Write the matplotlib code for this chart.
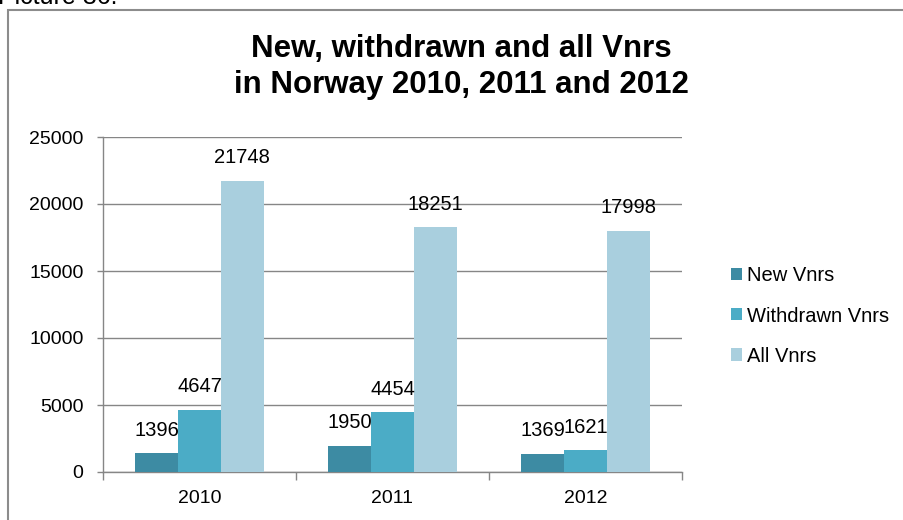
import matplotlib
matplotlib.use("Agg")
import matplotlib.pyplot as plt
import numpy as np
from matplotlib.patches import Rectangle

plt.rcParams["font.family"] = ["Liberation Sans", "DejaVu Sans"]
plt.rcParams["font.size"] = 14

years = ["2010", "2011", "2012"]
series_names = ["New Vnrs", "Withdrawn Vnrs", "All Vnrs"]
new_vnrs = [1396, 1950, 1369]
withdrawn_vnrs = [4647, 4454, 1621]
all_vnrs = [21748, 18251, 17998]
title_lines = ["New, withdrawn and all Vnrs", "in Norway 2010, 2011 and 2012"]

COLORS = ["#3D8BA3", "#4BACC6", "#A9CFDE"]
GRID = "#868686"
W, H = 904, 520

fig = plt.figure(figsize=(W / 100, H / 100), dpi=100)
ax = fig.add_axes([103 / W, 1 - 472 / H, (682 - 103) / W, (472 - 137) / H])

x = np.arange(len(years))
w = 43 / 193.5
for i, (vals, name, col) in enumerate(zip([new_vnrs, withdrawn_vnrs, all_vnrs], series_names, COLORS)):
    bars = ax.bar(x + (i - 1) * w, vals, width=w, color=col, label=name, zorder=3)
    for b, v in zip(bars, vals):
        ax.annotate(f"{v}", xy=(b.get_x() + b.get_width() / 2, v), xytext=(0, 16.5),
                    textcoords="offset points", ha="center", va="center", fontsize=14.5, zorder=4)

ax.set_xlim(-0.5, 2.5)
ax.set_ylim(0, 25000)
ax.set_yticks(range(0, 25001, 5000))
ax.yaxis.grid(True, color=GRID, lw=1.0, zorder=0)
ax.tick_params(axis="y", direction="out", length=4.5, color=GRID, width=1.0, labelsize=14, pad=9.5)

ax.set_xticks([-0.5, 0.5, 1.5, 2.5])
ax.set_xticklabels([])
ax.set_xticks(x, minor=True)
ax.set_xticklabels(years, minor=True)
ax.tick_params(axis="x", which="major", direction="out", length=6, color=GRID, width=1.0)
ax.tick_params(axis="x", which="minor", length=0, labelsize=14, pad=13)

for s in ["top", "right"]:
    ax.spines[s].set_visible(False)
for s in ["left", "bottom"]:
    ax.spines[s].set_color(GRID)
    ax.spines[s].set_linewidth(1.0)

# two-line title, baselines
for line, base in zip(title_lines, [57, 93]):
    fig.text(461 / W, 1 - base / H, line, ha="center", va="baseline", fontsize=22.5, fontweight="bold")

ax.legend(loc="center left", bbox_to_anchor=(721 / W, 1 - 316 / H), bbox_transform=fig.transFigure,
          frameon=False, fontsize=14.5, handlelength=0.55, handleheight=0.55, handletextpad=0.25,
          labelspacing=1.05, borderpad=0)

# chart border and the clipped caption above it
fig.patches.append(Rectangle((8 / W, -0.1), 1.2, 1.1 - 10 / H, transform=fig.transFigure,
                             fill=False, edgecolor="#8C8C8C", lw=1.5, clip_on=False))
fig.text(-2 / W, 1 - 3.5 / H, "Picture 36:", ha="left", va="baseline", fontsize=18)

fig.savefig("out.png", dpi=100, facecolor="white")
